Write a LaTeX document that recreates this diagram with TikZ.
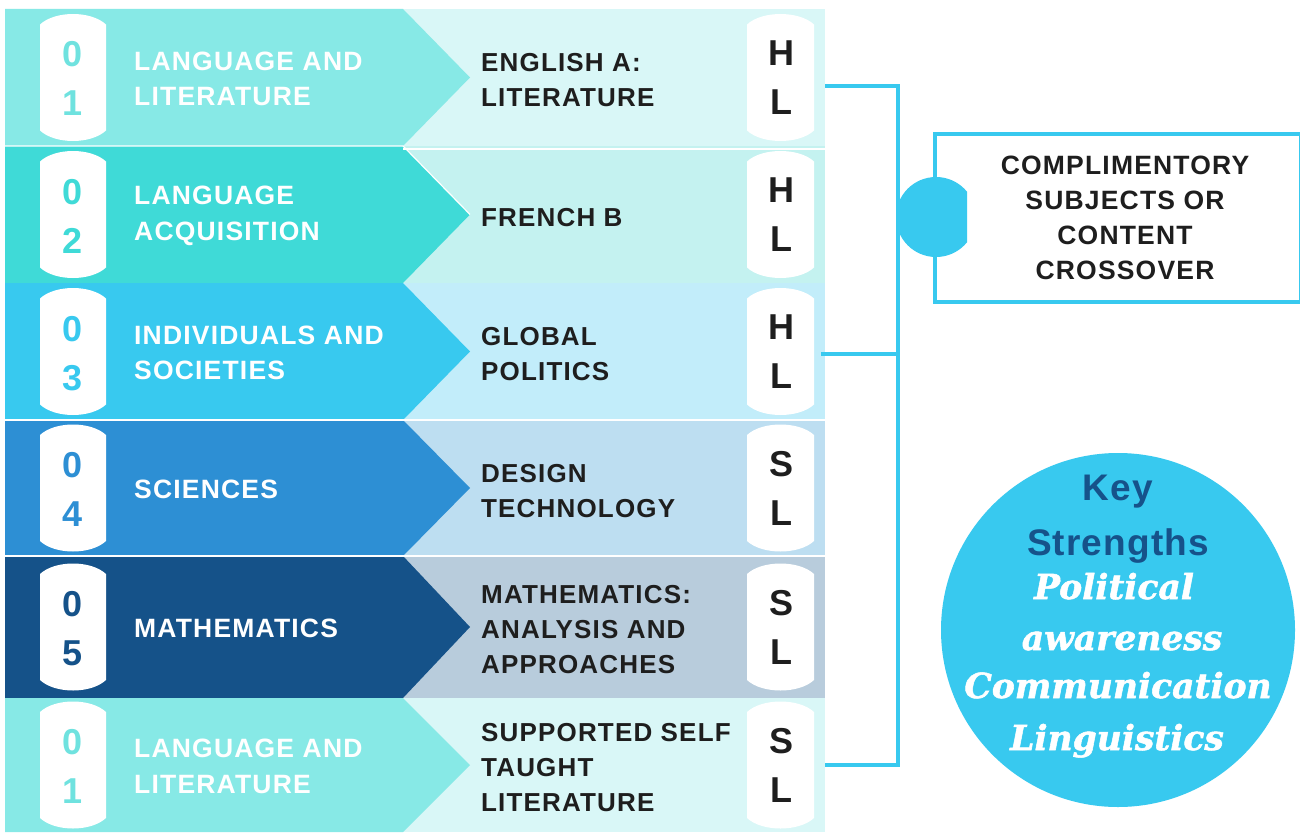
\documentclass[tikz,border=0pt]{standalone}
\usepackage{fontspec}
\newfontfamily\labfont[LetterSpace=4.5]{Liberation Sans}
\newfontfamily\keyfont[LetterSpace=3]{Liberation Sans}
\newfontfamily\strfont[FakeBold=1.5]{DejaVu Serif}
\definecolor{colL1}{HTML}{87E9E6}\definecolor{colR1}{HTML}{D9F7F7}\definecolor{colD1}{HTML}{6FE2DF}
\definecolor{colL2}{HTML}{3FDAD7}\definecolor{colR2}{HTML}{C4F2F0}\definecolor{colD2}{HTML}{3FDAD7}
\definecolor{colL3}{HTML}{38C9EF}\definecolor{colR3}{HTML}{C2EDFA}\definecolor{colD3}{HTML}{38C9EF}
\definecolor{colL4}{HTML}{2D8FD4}\definecolor{colR4}{HTML}{BDDEF1}\definecolor{colD4}{HTML}{2D8FD4}
\definecolor{colL5}{HTML}{155289}\definecolor{colR5}{HTML}{B8CCDC}\definecolor{colD5}{HTML}{155289}
\definecolor{colL6}{HTML}{87E9E6}\definecolor{colR6}{HTML}{D9F7F7}\definecolor{colD6}{HTML}{6FE2DF}
\definecolor{accent}{HTML}{38C9EF}
\definecolor{ink}{HTML}{1E1E1E}
\definecolor{keyblue}{HTML}{16528A}
\tikzset{
  digitsty/.style={anchor=base, inner sep=0, font={\labfont\bfseries\fontsize{36}{40}\selectfont}},
  leftlab/.style={anchor=west, inner sep=0, align=left, text=white, font={\labfont\bfseries\fontsize{26.5}{35.5}\selectfont}},
  rightlab/.style={anchor=west, inner sep=0, align=left, text=ink, font={\labfont\bfseries\fontsize{26}{35}\selectfont}},
  lvl/.style={anchor=base, inner sep=0, text=ink, font={\labfont\bfseries\fontsize{36}{40}\selectfont}},
  boxtext/.style={align=center, inner sep=0, text=ink, font={\labfont\bfseries\fontsize{26.5}{35}\selectfont}},
  keysty/.style={anchor=base, inner sep=0, text=keyblue, font={\keyfont\bfseries\fontsize{37}{40}\selectfont}},
  strsty/.style={anchor=base, inner sep=0, text=white, font={\strfont\bfseries\itshape\fontsize{34.5}{40}\selectfont}},
  brk/.style={draw=accent, line width=4.5pt, line join=miter, line cap=rect},
}
\newcommand\subjrow[7]{%
  \pgfmathsetmacro\rT{#2}\pgfmathsetmacro\rB{#3}\pgfmathsetmacro\rM{(#2+#3)/2}%
  \fill[colR#1] (403,\rT) rectangle (825,\rB);
  \fill[colL#1] (5,\rT) -- (403,\rT) -- (470,\rM) -- (403,\rB) -- (5,\rB) -- cycle;
  \fill[white] (40,\rM-53) .. controls (55,\rM-67) and (91,\rM-67) .. (106,\rM-53) -- (106,\rM+53) .. controls (91,\rM+67) and (55,\rM+67) .. (40,\rM+53) -- cycle;
  \fill[white] (747,\rM-53) .. controls (762,\rM-67) and (799,\rM-67) .. (814,\rM-53) -- (814,\rM+53) .. controls (799,\rM+67) and (762,\rM+67) .. (747,\rM+53) -- cycle;
  \node[digitsty, text=colD#1] (da#1) at (73,\rM-10.5) {0};
  \node[digitsty, text=colD#1] (db#1) at (73,\rM+38.5) {#4};
  \node[leftlab] (ll#1) at (134,\rM+1.5) {#5};
  \node[rightlab] (rl#1) at (481,\rM+3) {#6};
  \node[lvl] (ha#1) at (781,\rM-12) {#7};
  \node[lvl] (hb#1) at (781,\rM+37) {L};
}
\begin{document}
\begin{tikzpicture}[x=1pt,y=-1pt]
\useasboundingbox (0,0) rectangle (1300,832);
\fill[white] (0,0) rectangle (1300,832);
\subjrow{1}{9}{146}{1}{LANGUAGE AND\\LITERATURE}{ENGLISH A:\\LITERATURE}{H}
\subjrow{2}{146}{283}{2}{LANGUAGE\\ACQUISITION}{FRENCH B}{H}
\subjrow{3}{283}{420}{3}{INDIVIDUALS AND\\SOCIETIES}{GLOBAL\\POLITICS}{H}
\subjrow{4}{420}{556}{4}{SCIENCES}{DESIGN\\TECHNOLOGY}{S}
\subjrow{5}{556}{698}{5}{MATHEMATICS}{MATHEMATICS:\\ANALYSIS AND\\APPROACHES}{S}
\subjrow{6}{698}{832}{1}{LANGUAGE AND\\LITERATURE}{SUPPORTED SELF\\TAUGHT\\LITERATURE}{S}
% separators
\draw[white, line width=1.2pt] (5,146) -- (403,146) -- (470,214.5);
\draw[white, line width=2.5pt] (403,149) -- (825,149);
\draw[white, line width=1.2pt] (5,420) -- (825,420);
\draw[white, line width=1.2pt] (5,556) -- (825,556);
% bracket
\coordinate (b1) at (827,86);
\coordinate (c1) at (898,86);
\coordinate (b2) at (823,354);
\coordinate (c2) at (898,354);
\coordinate (b3) at (827,765);
\coordinate (c3) at (898,765);
\draw[brk] (b1) -- (c1) -- (c3) -- (b3);
\draw[brk] (b2) -- (c2);
% box
\node[draw=accent, line width=4pt, minimum width=366pt, minimum height=168pt, inner sep=0] (box) at (1118,218) {};
\node[boxtext] (boxt) at (1125,218) {COMPLIMENTORY\\SUBJECTS OR\\CONTENT\\CROSSOVER};
\begin{scope}
\clip (880,170) rectangle (967,265);
\node[circle, fill=accent, minimum size=80pt, inner sep=0] (dot) at (936,217) {};
\end{scope}
% key strengths
\node[circle, fill=accent, minimum size=354pt, inner sep=0] (ks) at (1118,630) {};
\node[keysty] (key) at (1118,500) {Key};
\node[keysty] (str) at (1118,555) {Strengths};
\node[strsty] (s1) at (1114,599) {Political};
\node[strsty] (s2) at (1122,650) {awareness};
\node[strsty] (s3) at (1118,698) {Communication};
\node[strsty] (s4) at (1117,750) {Linguistics};
\end{tikzpicture}
\end{document}
